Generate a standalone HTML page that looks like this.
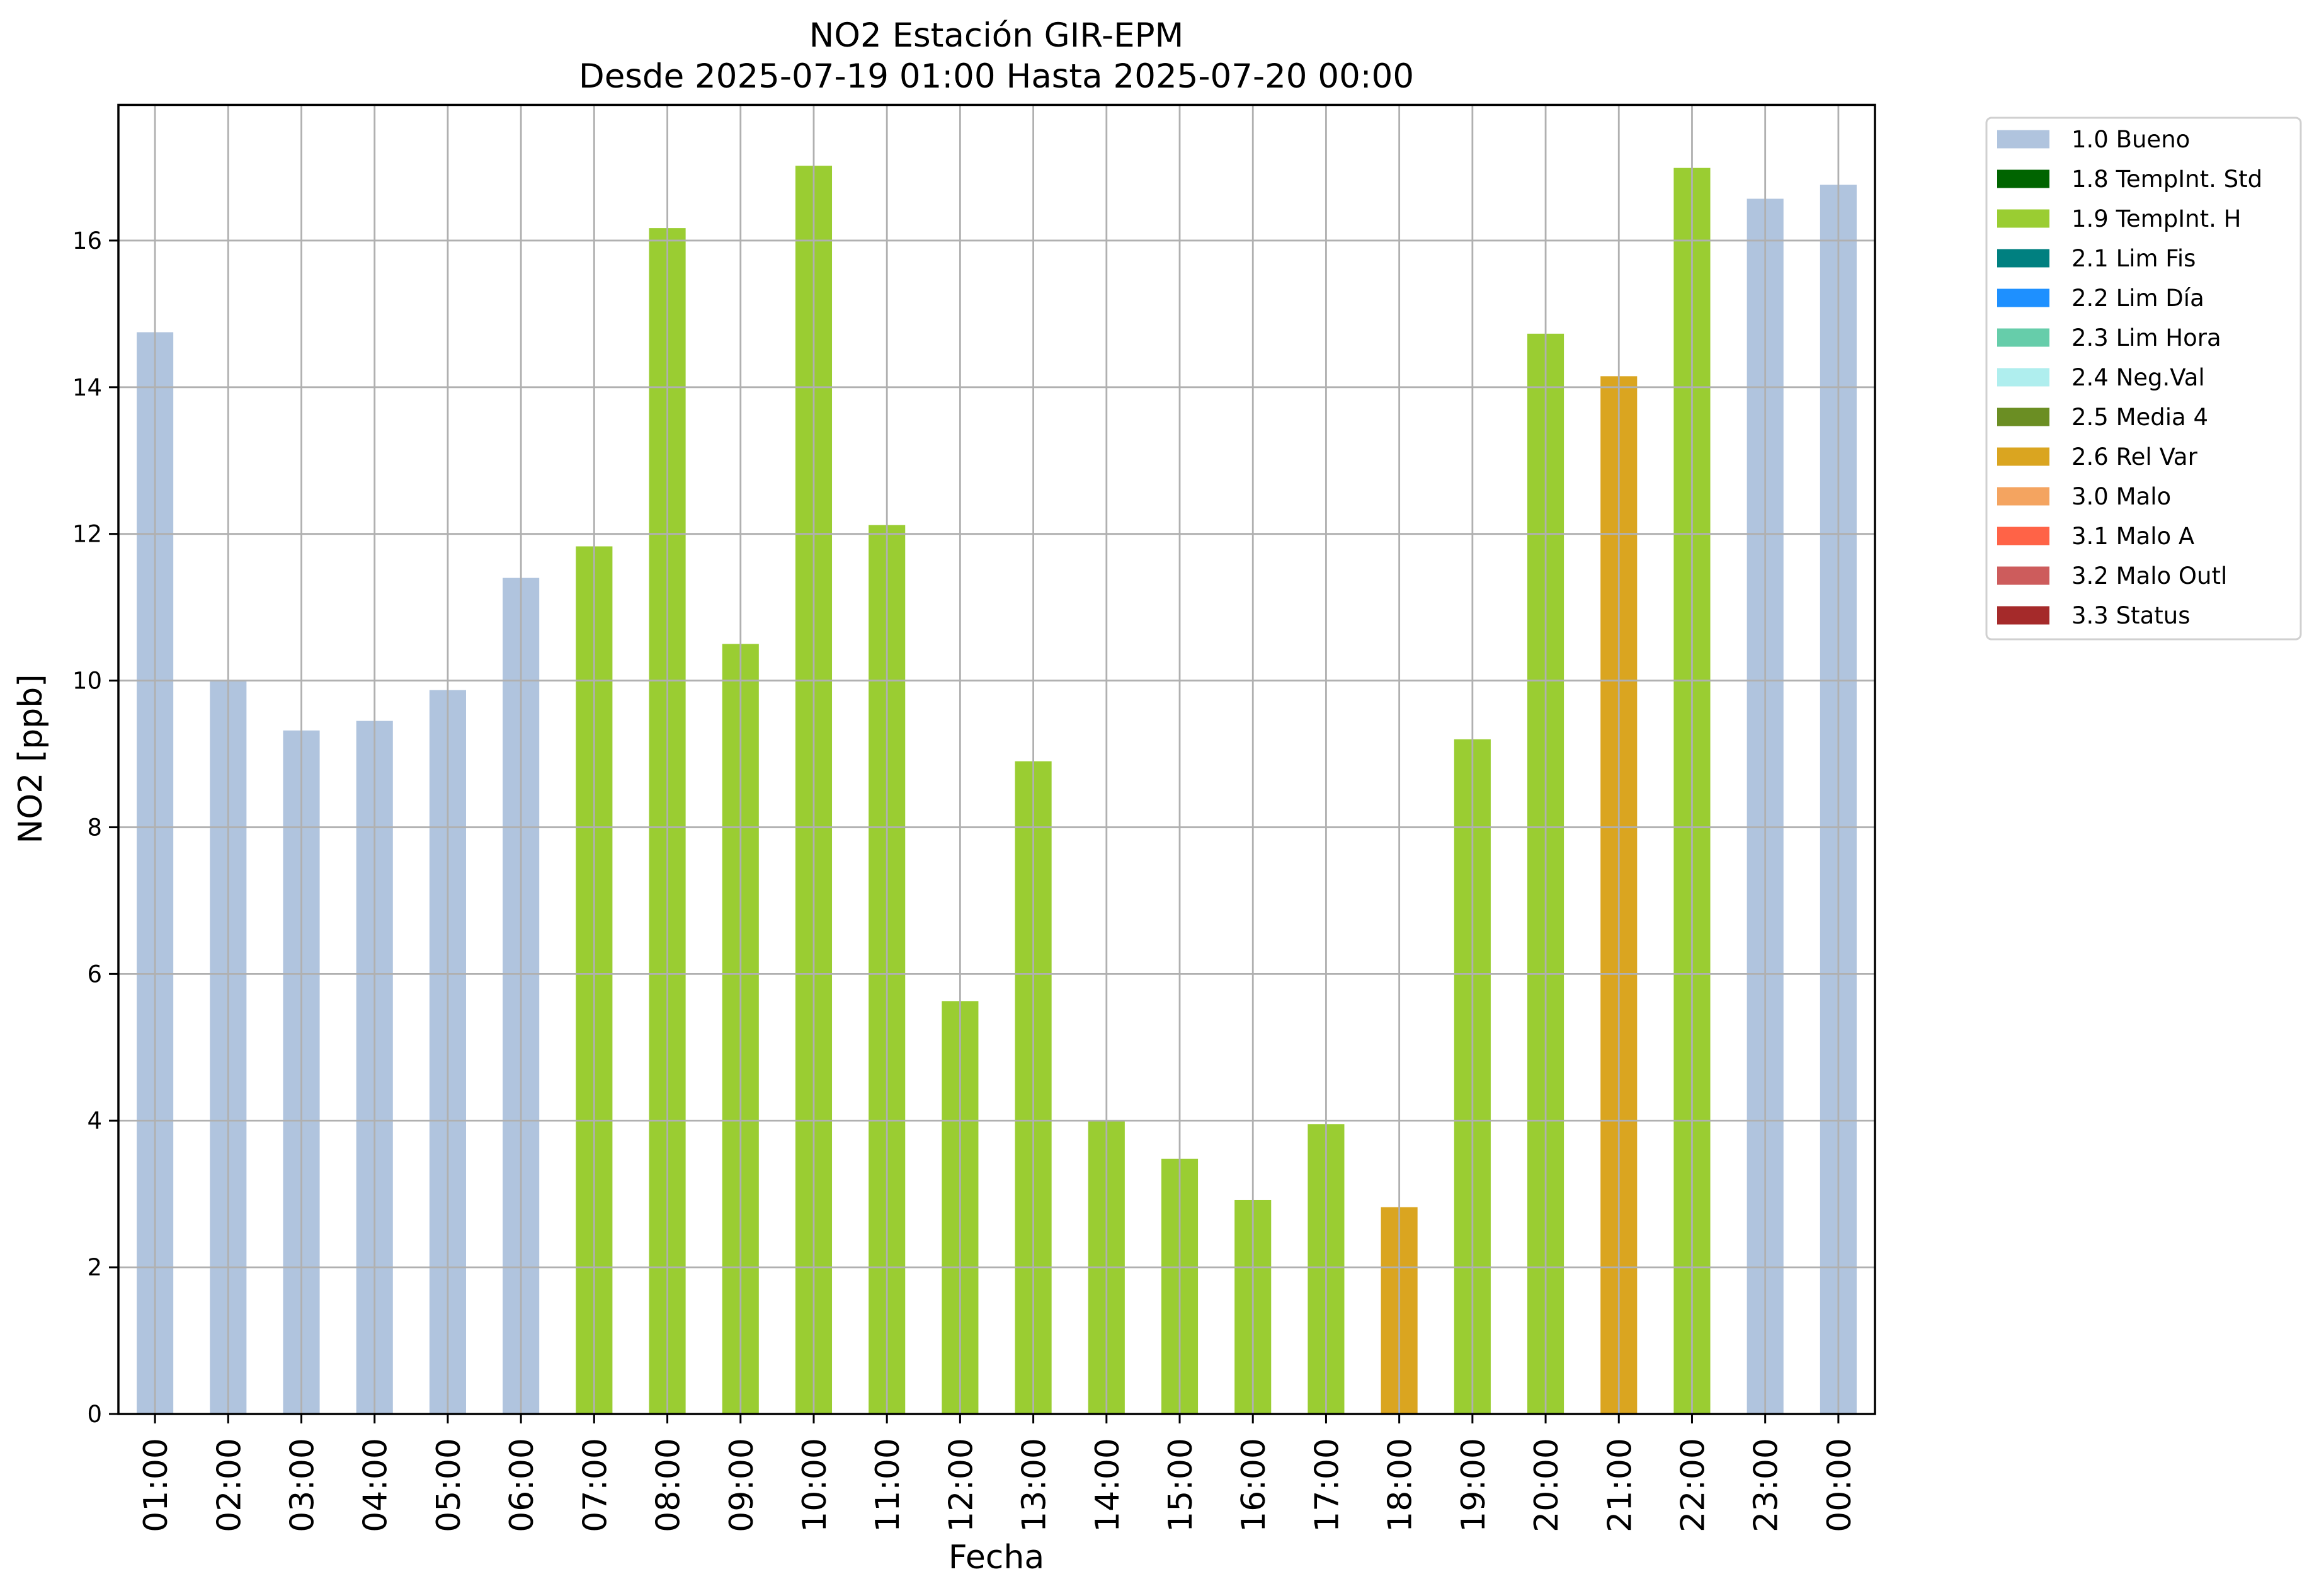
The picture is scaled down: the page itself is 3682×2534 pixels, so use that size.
<!DOCTYPE html>
<html><head><meta charset="utf-8"><style>
html,body{margin:0;padding:0;background:#fff;}
svg{display:block;font-family:"DejaVu Sans","Liberation Sans",sans-serif;}
</style></head><body>
<svg id="chart" width="3682" height="2534" viewBox="0 0 3682 2534" xmlns="http://www.w3.org/2000/svg">
<rect x="0" y="0" width="3682" height="2534" fill="#fff"/>
<g id="title">
<text x="1582" y="74" font-size="53" text-anchor="middle">NO2 Estación GIR-EPM</text>
<text x="1582" y="139" font-size="53" text-anchor="middle">Desde 2025-07-19 01:00 Hasta 2025-07-20 00:00</text>
</g>
<g id="bars"></g>
<g id="grid"></g>
<rect x="188" y="166.5" width="2789" height="2078.5" fill="none" stroke="#000" stroke-width="3.5"/>
<g id="yticks"></g>
<g id="xticks"></g>
<text transform="translate(66,1205) rotate(-90)" font-size="52" text-anchor="middle">NO2 [ppb]</text>
<text x="1582" y="2490" font-size="52" text-anchor="middle">Fecha</text>
<g id="legend">
<rect x="3154" y="187" width="499" height="828" rx="8" fill="#fff" stroke="#d0d0d0" stroke-width="3"/>
</g>
</svg>
<script>
const categories = ["01:00","02:00","03:00","04:00","05:00","06:00","07:00","08:00","09:00","10:00","11:00","12:00","13:00","14:00","15:00","16:00","17:00","18:00","19:00","20:00","21:00","22:00","23:00","00:00"];
const values = [14.75,10.0,9.32,9.45,9.87,11.4,11.83,16.17,10.5,17.02,12.12,5.63,8.9,4.0,3.48,2.92,3.95,2.82,9.2,14.73,14.15,16.99,16.57,16.76];
const flags = ["1.0","1.0","1.0","1.0","1.0","1.0","1.9","1.9","1.9","1.9","1.9","1.9","1.9","1.9","1.9","1.9","1.9","2.6","1.9","1.9","2.6","1.9","1.0","1.0"];
const yTicks = [0,2,4,6,8,10,12,14,16];
const legendLabels = ["1.0 Bueno","1.8 TempInt. Std","1.9 TempInt. H","2.1 Lim Fis","2.2 Lim Día","2.3 Lim Hora","2.4 Neg.Val","2.5 Media 4","2.6 Rel Var","3.0 Malo","3.1 Malo A","3.2 Malo Outl","3.3 Status"];
const legendColors = ["#b0c4de","#006400","#9acd32","#008080","#1e90ff","#66cdaa","#afeeee","#6b8e23","#daa520","#f4a460","#ff6347","#cd5c5c","#a52a2a"];

const NS = "http://www.w3.org/2000/svg";
const L = 188, R = 2977, T = 166.5, B = 2245, YMAX = 17.85;
const band = (R - L) / categories.length;
function xc(i){ return L + (i + 0.5) * band; }
function y(v){ return B - v / YMAX * (B - T); }
function mk(tag, attrs, parent){ const e = document.createElementNS(NS, tag); for (const k in attrs) e.setAttribute(k, attrs[k]); parent.appendChild(e); return e; }
function colorFor(f){ return legendColors[legendLabels.findIndex(l => l.startsWith(f))]; }

const gb = document.getElementById('bars');
values.forEach((v, i) => {
  const r = mk('rect', {x: xc(i) - band/4, y: y(v), width: band/2, height: B - y(v), fill: colorFor(flags[i])}, gb);
  
  
});
const gg = document.getElementById('grid');
yTicks.forEach(t => {
  const l = mk('line', {x1: L, x2: R, y1: y(t), y2: y(t), stroke: '#b0b0b0', 'stroke-width': 2.8}, gg);
  
  
});
categories.forEach((c, i) => {
  const l = mk('line', {x1: xc(i), x2: xc(i), y1: T, y2: B, stroke: '#b0b0b0', 'stroke-width': 2.8}, gg);
  
  
});
const gy = document.getElementById('yticks');
yTicks.forEach(t => {
  const tk = mk('line', {x1: L - 15, x2: L, y1: y(t), y2: y(t), stroke: '#000', 'stroke-width': 3}, gy);
  
  
  const tx = mk('text', {x: L - 26, y: y(t) + 13, 'font-size': 37, 'text-anchor': 'end'}, gy);
  tx.textContent = t;
  
  
});
const gx = document.getElementById('xticks');
categories.forEach((c, i) => {
  const tk = mk('line', {x1: xc(i), x2: xc(i), y1: B, y2: B + 15, stroke: '#000', 'stroke-width': 3}, gx);
  
  
  const tx = mk('text', {transform: 'translate(' + (xc(i) + 19) + ',' + (B + 38) + ') rotate(-90)', 'font-size': 52, 'text-anchor': 'end'}, gx);
  tx.textContent = c;
  
  
});
const gl = document.getElementById('legend');
legendLabels.forEach((lab, i) => {
  const cy = 221 + i * 63;
  const sw = mk('rect', {x: 3171, y: cy - 14.5, width: 83, height: 29, fill: legendColors[i]}, gl);
  
  
  const tx = mk('text', {x: 3289, y: cy + 13, 'font-size': 37}, gl);
  tx.textContent = lab;
  
  
});
</script>
</body></html>
